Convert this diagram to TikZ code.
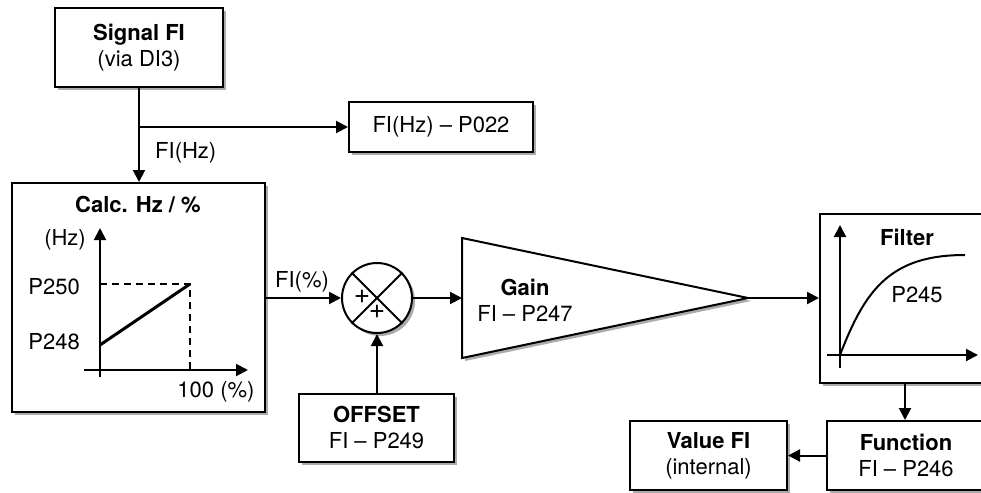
\documentclass[tikz,border=0pt]{standalone}
\usepackage{fontspec}
\setmainfont{TeX Gyre Heros}
\usetikzlibrary{positioning,arrows.meta,shadows,calc}

\begin{document}
\begin{tikzpicture}[
  x=1pt, y=-1pt,
  blk/.style={draw, fill=white, line width=2pt, inner sep=0pt,
              font=\fontsize{22}{26}\selectfont, align=center,
              drop shadow={shadow xshift=3pt, shadow yshift=-3pt,
                           fill=black!60, opacity=0.55}},
  arr/.style={-{Triangle[length=12pt, width=12pt]}, line width=2pt},
  lbl/.style={font=\fontsize{22}{26}\selectfont, inner sep=0pt},
  ttl/.style={font=\fontsize{22}{24}\selectfont\bfseries, inner sep=0pt},
]
\path[use as bounding box, fill=white] (0,0) rectangle (981,492);

%% Nodes
\node[blk, minimum width=168pt, minimum height=79pt] (sig)  at (139,47.5)
  {{\fontsize{22}{26}\selectfont\bfseries Signal FI}\\(via DI3)};
\node[blk, minimum width=184pt, minimum height=50pt] (p022) at (441,127)
  {FI(Hz) -- P022};
\node[blk, minimum width=253pt, minimum height=229pt] (calc) at (138.5,297.5) {};
\node[blk, circle, minimum size=70pt] (sum) at (377,298) {};
\node[blk, minimum width=155pt, minimum height=68pt] (offs) at (376.5,428)
  {{\fontsize{22}{26}\selectfont\bfseries OFFSET}\\FI -- P249};
\node[blk, minimum width=180pt, minimum height=169pt] (filt) at (910,298.5) {};
\node[blk, minimum width=158pt, minimum height=69pt] (func) at (906,455.5)
  {{\fontsize{22}{26}\selectfont\bfseries Function}\\FI -- P246};
\node[blk, minimum width=157pt, minimum height=69pt] (val)  at (708.5,455.5)
  {{\fontsize{22}{26}\selectfont\bfseries Value FI}\\(internal)};

% gain block (triangle)
\draw[blk] (462,238) -- (748,298) coordinate (gout) -- (462,358) -- cycle;
\coordinate (gin) at (462,298);
\node[lbl, align=center] (gain) at (525,300)
  {{\fontsize{22}{26}\selectfont\bfseries Gain}\\FI -- P247};

%% Calc. Hz / % graph
\node[ttl] (calct) at (138,205) {Calc. Hz / \%};
\draw[arr] (100,377) -- (100,228);
\draw[arr] (84,370) -- (248,370);
\draw[line width=1.6pt, dash pattern=on 7pt off 5pt] (100,284) -- (190,284) -- (190,370);
\draw[line width=3pt] (100,345) -- (190,284);
\node[lbl, anchor=east] (hz)   at (86,240)  {(Hz)};
\node[lbl, anchor=east] (p250) at (80,287)  {P250};
\node[lbl, anchor=east] (p248) at (80,342)  {P248};
\node[lbl]              (pct)  at (216,392) {100 (\%)};

%% Filter graph
\node[ttl] (filtt) at (907,237) {Filter};
\draw[arr] (840,368) -- (840,225);
\draw[arr] (827,355) -- (978,355);
\draw[line width=2pt] (840,355) .. controls (865,290) and (890,255) .. (965,255);
\node[lbl] (p245) at (917,295) {P245};

%% Summing point
\draw[line width=2pt] (sum.north west) -- (sum.south east);
\draw[line width=2pt] (sum.north east) -- (sum.south west);
\node[font=\fontsize{28}{28}\selectfont, inner sep=0pt] (plA) at (362,297) {+};
\node[font=\fontsize{28}{28}\selectfont, inner sep=0pt] (plB) at (377,312) {+};

%% Connections
% signal -> calc, with branch to P022
\coordinate (br) at (sig.south |- p022.west);
\draw[arr] (sig.south) -- (calc.north -| sig.south);
\draw[arr] (br) -- (p022.west);
\node[lbl, anchor=west] (fihz) at (155,153) {FI(Hz)};

% calc -> sum
\draw[arr] (calc.east |- sum.west) -- (sum.west);
\node[lbl] (fipct) at (302,282) {FI(\%)};

% offset -> sum
\draw[arr] (offs.north -| sum.south) -- (sum.south);

% sum -> gain -> filter
\draw[arr] (sum.east) -- (gin);
\draw[arr] (gout) -- (filt.west |- gout);

% filter -> function -> value
\draw[arr] (filt.south -| 905,0) -- (func.north -| 905,0);
\draw[arr] (func.west) -- (val.east);

\end{tikzpicture}
\end{document}
